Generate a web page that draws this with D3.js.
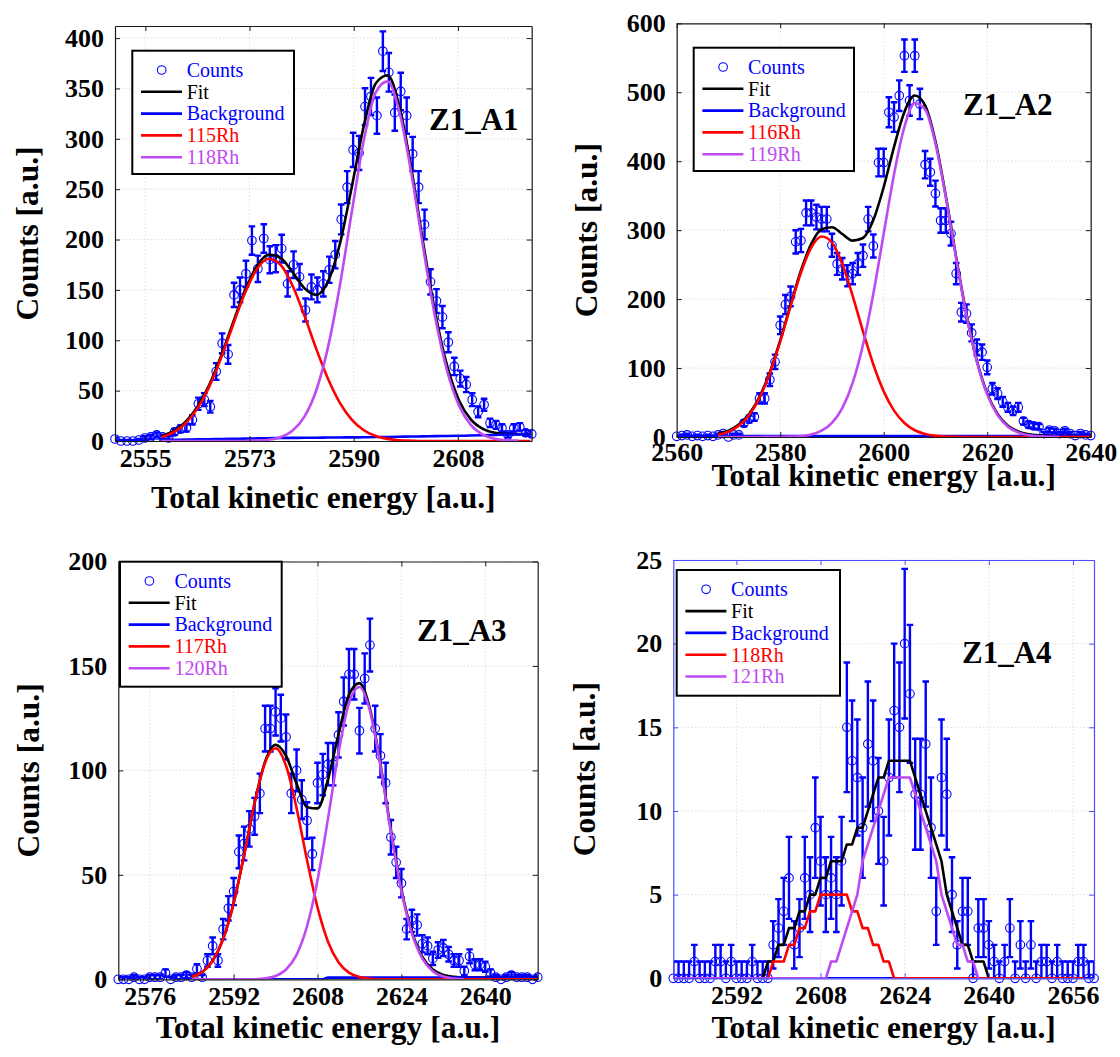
<!DOCTYPE html>
<html>
<head>
<meta charset="utf-8">
<title>Rh isotope TKE fits</title>
<script src="https://cdn.jsdelivr.net/npm/d3@7/dist/d3.min.js"></script>
<style>
  html, body { margin: 0; padding: 0; background: #fff; }
  svg { display: block; }
</style>
</head>
<body>
<svg id="chart" width="1120" height="1057"></svg>
<script>
// ---------------- Z1_A1 ----------------
const binStartZ1A1 = 2550.2;
const countsZ1A1 = [2,0,0,0,1,3,4,6,4,3,9,12,13,21,37,41,34,69,97,86,145,150,166,199,171,201,180,181,191,156,
  175,163,130,153,150,156,170,185,220,252,289,286,332,342,323,387,366,326,347,323,285,252,215,158,139,123,98,74,62,56,
  41,29,36,18,16,13,6,13,14,8,7];
const fitXZ1A1 = d3.range(2558, 2621, 2);
const fitZ1A1 = [4.9,9.8,18.7,33.5,55.3,84.1,116.9,148.9,173.3,185.0,181.8,167.8,151.8,145.0,158.6,196.3,252.9,312.9,
  355.0,363.1,331.2,269.7,195.6,127.1,74.5,40.3,21.2,12.0,8.2,7.0,6.8,7.0];
const bgZ1A1 = [1.0,1.2,1.4,1.6,1.8,2.0,2.2,2.4,2.6,2.8,3.0,3.1,3.2,3.3,3.4,3.5,3.6,3.7,3.9,4.0,4.2,4.4,4.6,4.8,5.0,
  5.2,5.4,5.7,6.0,6.3,6.6,7.0];
const rh115 = [3.9,8.6,17.3,31.9,53.5,82.1,114.7,146.4,170.3,180.9,175.0,154.6,124.7,91.6,61.5,37.6,21.0,10.7,4.9,2.1,
  0.8,0.3,0,0,0,0,0,0,0,0,0,0];
const rh118XZ1A1 = d3.range(2558, 2619, 2);
const rh118 = [0,0,0,0,0,0,0,0,0.4,1.3,3.8,10.1,23.9,50.1,93.7,155.2,228.3,298.5,346.2,357.0,326.2,265.0,191.0,122.3,
  69.5,35.1,15.8,6.3,2.2,0.7,0.2];
const xTicksZ1A1 = [2555.3, 2572.8, 2590.3, 2607.8];
const xTickLabelsZ1A1 = ["2555", "2573", "2590", "2608"];
const yTicksZ1A1 = [0, 50, 100, 150, 200, 250, 300, 350, 400];
const legendZ1A1 = ["Counts", "Fit", "Background", "115Rh", "118Rh"];

// ---------------- Z1_A2 ----------------
const binStartZ1A2 = 2560;
const countsZ1A2 = [1,2,3,1,2,1,2,1,3,5,0,3,3,20,26,29,56,56,83,109,162,192,204,283,285,325,325,319,316,316,
  278,251,244,234,237,251,263,316,277,398,398,471,464,495,553,488,553,483,395,384,353,314,314,295,237,181,179,151,130,123,
  101,70,63,51,43,38,43,23,18,16,15,5,10,9,5,9,5,2,5,3,2];
const fitXZ1A2 = d3.range(2568, 2641, 2);
const fitZ1A2 = [4.9,9.3,18.0,33.4,58.3,94.1,140.0,191.5,241.1,280.0,301.4,304.2,294.4,284.8,288.6,314.6,362.5,420.9,
  471.5,495.3,481.1,428.9,349.9,260.9,177.7,110.8,63.3,33.4,16.5,8.0,4.0,2.4,1.8,1.5,1.5,1.5,1.5];
const bgXZ1A2 = [2568, 2640];
const bgZ1A2 = [1.5, 1.5];
const rh116 = [3.4,7.8,16.5,31.9,56.7,92.4,138.2,189.5,238.2,274.8,290.7,282.1,250.9,204.8,153.3,105.2,66.2,38.2,20.3,
  9.8,4.4,1.8,0.7,0.2,0,0,0,0,0,0,0,0,0,0,0,0,0];
const rh119XZ1A2 = d3.range(2568, 2635, 2);
const rh119 = [0,0,0,0,0.1,0.2,0.3,0.5,1.4,3.7,9.2,20.6,42.0,78.5,133.8,207.9,294.8,381.2,449.7,484.0,475.2,425.6,
  347.7,259.2,176.2,109.3,61.8,31.9,15.0,6.5,2.5,0.9,0.3,0];
const xTicksZ1A2 = [2560, 2580, 2600, 2620, 2640];
const xTickLabelsZ1A2 = ["2560", "2580", "2600", "2620", "2640"];
const yTicksZ1A2 = [0, 100, 200, 300, 400, 500, 600];
const legendZ1A2 = ["Counts", "Fit", "Background", "116Rh", "119Rh"];

// ---------------- Z1_A3 ----------------
const binStartZ1A3 = 2570;
const countsZ1A3 = [0,0,0,1,0,0,1,1,1,3,0,1,1,2,1,5,1,9,16,9,24,34,42,61,65,72,78,89,120,120,
  128,125,116,89,100,86,76,60,94,98,103,103,117,133,146,146,119,144,160,120,107,94,68,56,46,24,28,26,17,16,
  10,14,15,12,9,9,4,11,7,7,6,3,1,0,1,2,1,1,1,0,1];
const fitXZ1A3 = d3.range(2584, 2651, 2);
const fitZ1A3 = [1.2,3.5,8.9,19.3,36.4,59.5,84.4,104.2,112.2,106.9,93.7,82.4,81.8,95.7,117.3,136.2,141.8,129.5,103.1,
  71.4,43.1,22.8,10.7,4.7,2.1,1.2,0.8,0.8,0.8,0.8,0.8,0.8,0.8,0.8];
const bgXZ1A3 = [2584, 2609, 2610, 2650];
const bgZ1A3 = [0, 0, 0.8, 0.8];
const rh117 = [1.2,3.5,8.9,19.3,36.4,59.5,84.4,103.7,110.6,102.2,82.0,57.0,34.4,18.0,8.2,3.2,1.1,0.3,
  0,0,0,0,0,0,0,0,0,0,0,0,0,0,0,0];
const rh120XZ1A3 = d3.range(2584, 2637, 2);
const rh120 = [0,0,0,0,0,0,0,0.5,1.6,4.7,11.7,25.4,47.4,76.9,108.3,132.2,139.9,128.4,102.3,70.6,42.3,22.0,9.9,3.9,
  1.3,0.4,0];
const xTicksZ1A3 = [2576, 2592, 2608, 2624, 2640];
const xTickLabelsZ1A3 = ["2576", "2592", "2608", "2624", "2640"];
const yTicksZ1A3 = [0, 50, 100, 150, 200];
const legendZ1A3 = ["Counts", "Fit", "Background", "117Rh", "120Rh"];

// ---------------- Z1_A4 ----------------
const binStartZ1A4 = 2580;
const countsZ1A4 = [0,0,0,0,1,0,0,0,1,1, 0,1,0,0,0,1,0,0,0,2, 3,4,6,2,3,6,5,9,7,5, 6,5,7,15,13,12,9,14,13,10,
  7,12,16,15,20,17,11,11,14,9, 4,12,11,5,2,4,4,0,3,3, 2,1,0,1,3,0,2,0,2,0, 1,1,0,1,0,0,0,1,1,0, 0];
const fitXZ1A4 = d3.range(2580, 2661, 1);
const fitZ1A4 = [0,0,0,0,0,0,0,0,0,0,0,0,0,0,0,0,0,0,
  1,1,2,2,3,3,4,4,5,5,6,6,7,7,7,8,8,9,9,10,11,12,12,13,13,13,13,13,12,11,10,9,8,7,5,4,3,2,2,1,1,1,
  0,0,0,0,0,0,0,0,0,0,0,0,0,0,0,0,0,0,0,0,0];
const bgXZ1A4 = [2580, 2660];
const bgZ1A4 = [0, 0];
const rh118A4 = [0,0,0,0,0,0,0,0,0,0,0,0,0,0,0,0,0,0,0,
  1,1,1,2,2,3,3,4,4,5,5,5,5,5,5,4,4,3,3,2,2,1,1,
  0,0,0,0,0,0,0,0,0,0,0,0,0,0,0,0,0,0,0,0,0,0,0,0,0,0,0,0,0,0,0,0,0,0,0,0,0];
const rh121XZ1A4 = d3.range(2580, 2639, 1);
const rh121 = [0,0,0,0,0,0,0,0,0,0,0,0,0,0,0,0,0,0,0,0,0,0,0,0,0,0,0,0,0,0,
  1,1,2,3,4,5,7,8,9,10,11,12,12,12,12,12,11,10,9,8,7,5,4,3,2,2,1,1,0];
const xTicksZ1A4 = [2592, 2608, 2624, 2640, 2656];
const xTickLabelsZ1A4 = ["2592", "2608", "2624", "2640", "2656"];
const yTicksZ1A4 = [0, 5, 10, 15, 20, 25];
const legendZ1A4 = ["Counts", "Fit", "Background", "118Rh", "121Rh"];

// ---------------- shared styling ----------------
const SERIF = "'Liberation Serif', 'Times New Roman', Times, serif";
const C_COUNTS = "#0000ff", C_FIT = "#000000", C_BG = "#0000ff", C_LIGHT = "#ff0000", C_HEAVY = "#bf49f2";

const zip = (xs, ys) => ys.map((v, i) => [xs[i], v]);

const panels = [
  { tag: "Z1_A1", box: [115, 26, 531.7, 441], xDomain: [2550.2, 2620.2], yDomain: [0, 412],
    binStart: binStartZ1A1, counts: countsZ1A1,
    fit: zip(fitXZ1A1, fitZ1A1), bg: zip(fitXZ1A1, bgZ1A1), light: zip(fitXZ1A1, rh115), heavy: zip(rh118XZ1A1, rh118),
    xTicks: xTicksZ1A1, xTickLabels: xTickLabelsZ1A1, yTicks: yTicksZ1A1, legend: legendZ1A1,
    smooth: true, frame: "#1a1a1a", xPad: 8,
    legendBox: [132.3, 50.7, 161.7, 123.3], tagPos: [429, 130], xTitleY: 508, yTitleX: 38 },
  { tag: "Z1_A2", box: [676.7, 23.3, 1090.7, 437], xDomain: [2560, 2640], yDomain: [0, 600],
    binStart: binStartZ1A2, counts: countsZ1A2,
    fit: zip(fitXZ1A2, fitZ1A2), bg: zip(bgXZ1A2, bgZ1A2), light: zip(fitXZ1A2, rh116), heavy: zip(rh119XZ1A2, rh119),
    xTicks: xTicksZ1A2, xTickLabels: xTickLabelsZ1A2, yTicks: yTicksZ1A2, legend: legendZ1A2,
    smooth: true, frame: "#1a1a1a", xPad: 5.5,
    legendBox: [693.7, 47.7, 160.3, 123.3], tagPos: [963, 115], xTitleY: 486, yTitleX: 597 },
  { tag: "Z1_A3", box: [118.3, 561.5, 537.7, 979.3], xDomain: [2570, 2650], yDomain: [0, 200],
    binStart: binStartZ1A3, counts: countsZ1A3,
    fit: zip(fitXZ1A3, fitZ1A3), bg: zip(bgXZ1A3, bgZ1A3), light: zip(fitXZ1A3, rh117), heavy: zip(rh120XZ1A3, rh120),
    xTicks: xTicksZ1A3, xTickLabels: xTickLabelsZ1A3, yTicks: yTicksZ1A3, legend: legendZ1A3,
    smooth: true, frame: "#1a1a1a", xPad: 7,
    legendBox: [120, 561.7, 161.7, 125], tagPos: [417, 641], xTitleY: 1038, yTitleX: 39 },
  { tag: "Z1_A4", box: [673.3, 560, 1094, 978.3], xDomain: [2580, 2660], yDomain: [0, 25],
    binStart: binStartZ1A4, counts: countsZ1A4,
    fit: zip(fitXZ1A4, fitZ1A4), bg: zip(bgXZ1A4, bgZ1A4), light: zip(fitXZ1A4, rh118A4), heavy: zip(rh121XZ1A4, rh121),
    xTicks: xTicksZ1A4, xTickLabels: xTickLabelsZ1A4, yTicks: yTicksZ1A4, legend: legendZ1A4,
    smooth: false, frame: "#4d4dff", xPad: 7.5,
    legendBox: [676.7, 570, 163.3, 125.7], tagPos: [962, 663], xTitleY: 1038, yTitleX: 595 }
];

const svg = d3.select("#chart");
const defs = svg.append("defs");

function drawPanel(p, idx) {
  const [L, T, R, B] = p.box;
  const x = d3.scaleLinear().domain(p.xDomain).range([L, R]);
  const y = d3.scaleLinear().domain(p.yDomain).range([B, T]);
  const g = svg.append("g").attr("class", "panel");
  const clipId = "plot-clip-" + idx;
  defs.append("clipPath").attr("id", clipId)
    .append("rect").attr("x", L).attr("y", T).attr("width", R - L).attr("height", B - T);

  // dotted grid
  const grid = g.append("g").attr("stroke", "#d4d4d4").attr("stroke-width", 0.9).attr("stroke-dasharray", "1.2,2.4");
  grid.selectAll("line.gx").data(p.xTicks).join("line").attr("class", "gx")
    .attr("x1", d => x(d)).attr("x2", d => x(d)).attr("y1", T).attr("y2", B);
  grid.selectAll("line.gy").data(p.yTicks).join("line").attr("class", "gy")
    .attr("x1", L).attr("x2", R).attr("y1", d => y(d)).attr("y2", d => y(d));

  // counts with Poisson error bars
  const pts = p.counts.map((c, i) => ({ e: p.binStart + i, c }));
  const cap = 3.3;
  g.append("g").attr("clip-path", `url(#${clipId})`)
    .selectAll("path").data(pts).join("path")
    .attr("fill", "none").attr("stroke", C_COUNTS).attr("stroke-width", 2.4)
    .attr("d", d => {
      const s = Math.max(1, Math.sqrt(d.c));
      const xx = x(d.e), y0 = y(d.c - s), y1 = y(d.c + s);
      return `M${xx - cap},${y1}H${xx + cap}M${xx},${y1}V${y0}M${xx - cap},${y0}H${xx + cap}`;
    });
  g.append("g").selectAll("circle").data(pts).join("circle")
    .attr("cx", d => x(d.e)).attr("cy", d => y(d.c)).attr("r", 4.3)
    .attr("fill", "none").attr("stroke", C_COUNTS).attr("stroke-width", 1.1);

  // fit curves
  const line = d3.line().x(d => x(d[0])).y(d => y(d[1]))
    .curve(p.smooth ? d3.curveMonotoneX : d3.curveLinear);
  const curves = g.append("g").attr("clip-path", `url(#${clipId})`).attr("fill", "none")
    .attr("stroke-width", 2.6).attr("stroke-linejoin", "round");
  curves.append("path").attr("d", line(p.fit)).attr("stroke", C_FIT);
  curves.append("path").attr("d", line(p.bg)).attr("stroke", C_BG);
  curves.append("path").attr("d", line(p.light)).attr("stroke", C_LIGHT);
  curves.append("path").attr("d", line(p.heavy)).attr("stroke", C_HEAVY);

  // axes: inward ticks on all four sides
  const styleAxis = sel => {
    sel.attr("font-family", SERIF).attr("font-size", 26).attr("font-weight", "bold");
    sel.selectAll("path.domain").attr("stroke", p.frame).attr("stroke-width", 1.2);
    sel.selectAll(".tick line").attr("stroke", p.frame).attr("stroke-width", 1);
    sel.selectAll(".tick text").attr("fill", "#000");
  };
  g.append("g").attr("transform", `translate(0,${B})`)
    .call(d3.axisBottom(x).tickValues(p.xTicks).tickFormat((d, i) => p.xTickLabels[i])
      .tickSize(-5).tickSizeOuter(0).tickPadding(p.xPad))
    .call(styleAxis);
  g.append("g").attr("transform", `translate(0,${T})`)
    .call(d3.axisTop(x).tickValues(p.xTicks).tickFormat("").tickSize(-5).tickSizeOuter(0))
    .call(styleAxis);
  g.append("g").attr("transform", `translate(${L},0)`)
    .call(d3.axisLeft(y).tickValues(p.yTicks).tickFormat(d3.format("d"))
      .tickSize(-5).tickSizeOuter(0).tickPadding(11))
    .call(styleAxis);
  g.append("g").attr("transform", `translate(${R},0)`)
    .call(d3.axisRight(y).tickValues(p.yTicks).tickFormat("").tickSize(-5).tickSizeOuter(0))
    .call(styleAxis);

  // axis titles
  g.append("text").attr("x", (L + R) / 2).attr("y", p.xTitleY)
    .attr("text-anchor", "middle").attr("font-family", SERIF).attr("font-weight", "bold")
    .attr("font-size", 31.5).text("Total kinetic energy [a.u.]");
  g.append("text").attr("transform", `translate(${p.yTitleX},${(T + B) / 2}) rotate(-90)`)
    .attr("text-anchor", "middle").attr("font-family", SERIF).attr("font-weight", "bold")
    .attr("font-size", 31.5).text("Counts [a.u.]");

  // panel tag
  g.append("text").attr("x", p.tagPos[0]).attr("y", p.tagPos[1])
    .attr("font-family", SERIF).attr("font-weight", "bold").attr("font-size", 31).text(p.tag);

  // legend
  const [bx, by, bw, bh] = p.legendBox;
  const lg = g.append("g");
  lg.append("rect").attr("x", bx).attr("y", by).attr("width", bw).attr("height", bh)
    .attr("fill", "#fff").attr("stroke", "#000").attr("stroke-width", 2);
  const colors = [C_COUNTS, C_FIT, C_BG, C_LIGHT, C_HEAVY];
  p.legend.forEach((name, i) => {
    const cy = by + 19.3 + i * 21.8;
    if (i === 0) {
      lg.append("circle").attr("cx", bx + 29.4).attr("cy", cy).attr("r", 4.3)
        .attr("fill", "none").attr("stroke", C_COUNTS).attr("stroke-width", 1.1);
    } else {
      lg.append("line").attr("x1", bx + 8.7).attr("x2", bx + 49.7).attr("y1", cy).attr("y2", cy)
        .attr("stroke", colors[i]).attr("stroke-width", 2.6);
    }
    lg.append("text").attr("x", bx + 54.4).attr("y", cy + 6.8)
      .attr("font-family", SERIF).attr("font-size", 20).attr("fill", colors[i]).text(name);
  });
}

panels.forEach(drawPanel);
</script>
</body>
</html>
